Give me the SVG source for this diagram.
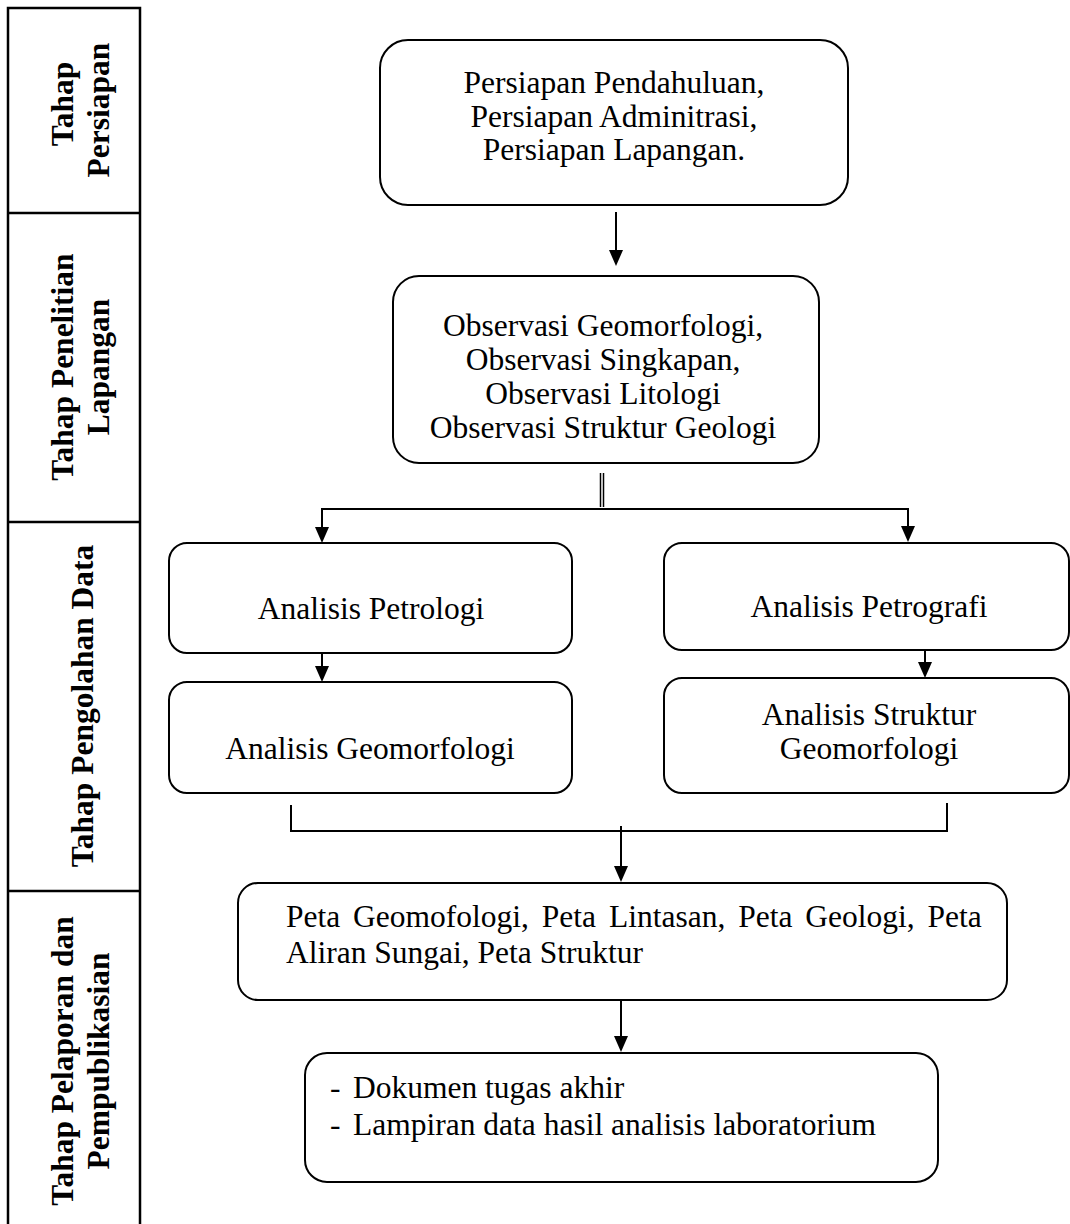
<svg xmlns="http://www.w3.org/2000/svg" width="1070" height="1224" viewBox="0 0 1070 1224">
<style>
.box{fill:#fff;stroke:#000;stroke-width:2}
.t{font-family:"Liberation Serif","Times New Roman",serif;font-size:31.5px;fill:#000}
.c{text-anchor:middle}
.b{font-weight:bold}
.ln{fill:none;stroke:#000;stroke-width:2}
</style>
<defs>
<marker id="ah" viewBox="0 0 16 14" markerWidth="16" markerHeight="14" refX="8" refY="7" orient="auto" markerUnits="userSpaceOnUse">
<path d="M0,0 L16,7 L0,14 Z" fill="#000"/>
</marker>
</defs>
<rect width="1070" height="1224" fill="#fff"/>

<g id="stages">
<rect x="8" y="8" width="132" height="1230" fill="none" stroke="#000" stroke-width="2.5"/>
<line x1="8" y1="213" x2="140" y2="213" stroke="#000" stroke-width="2.5"/>
<line x1="8" y1="522" x2="140" y2="522" stroke="#000" stroke-width="2.5"/>
<line x1="8" y1="891" x2="140" y2="891" stroke="#000" stroke-width="2.5"/>
<g id="stage1">
<text class="t b c" transform="translate(73,104) rotate(-90)">Tahap</text>
<text class="t b c" transform="translate(109,110) rotate(-90)">Persiapan</text>
</g>
<g id="stage2">
<text class="t b c" transform="translate(73,367) rotate(-90)">Tahap Penelitian</text>
<text class="t b c" transform="translate(109,367) rotate(-90)">Lapangan</text>
</g>
<g id="stage3">
<text class="t b c" transform="translate(93,706) rotate(-90)">Tahap Pengolahan Data</text>
</g>
<g id="stage4">
<text class="t b c" transform="translate(73,1061) rotate(-90)">Tahap Pelaporan dan</text>
<text class="t b c" transform="translate(109,1061) rotate(-90)">Pempublikasian</text>
</g>
</g>

<g id="connectors">
<line class="ln" x1="616" y1="212" x2="616" y2="258" marker-end="url(#ah)"/>
<line x1="600.5" y1="473" x2="600.5" y2="507" stroke="#000" stroke-width="1.5"/>
<line x1="603.5" y1="473" x2="603.5" y2="507" stroke="#000" stroke-width="1.5"/>
<polyline class="ln" points="322,535 322,509 908,509 908,534"/>
<line class="ln" x1="322" y1="520" x2="322" y2="535" marker-end="url(#ah)"/>
<line class="ln" x1="908" y1="520" x2="908" y2="534" marker-end="url(#ah)"/>
<line class="ln" x1="322" y1="653" x2="322" y2="674" marker-end="url(#ah)"/>
<line class="ln" x1="925" y1="650" x2="925" y2="670" marker-end="url(#ah)"/>
<polyline class="ln" points="291,805 291,831 947,831 947,803"/>
<line class="ln" x1="621" y1="826" x2="621" y2="874" marker-end="url(#ah)"/>
<line class="ln" x1="621" y1="1000" x2="621" y2="1044" marker-end="url(#ah)"/>
</g>

<g id="n1">
<rect class="box" x="380" y="40" width="468" height="165" rx="28"/>
<text class="t c" x="614" y="93">Persiapan Pendahuluan,</text>
<text class="t c" x="614" y="127">Persiapan Adminitrasi,</text>
<text class="t c" x="614" y="160">Persiapan Lapangan.</text>
</g>
<g id="n2">
<rect class="box" x="393" y="276" width="426" height="187" rx="26"/>
<text class="t c" x="603" y="336">Observasi Geomorfologi,</text>
<text class="t c" x="603" y="370">Observasi Singkapan,</text>
<text class="t c" x="603" y="404">Observasi Litologi</text>
<text class="t c" x="603" y="438">Observasi Struktur Geologi</text>
</g>
<g id="n3">
<rect class="box" x="169" y="543" width="403" height="110" rx="18"/>
<text class="t c" x="371" y="619">Analisis Petrologi</text>
</g>
<g id="n4">
<rect class="box" x="169" y="682" width="403" height="111" rx="18"/>
<text class="t c" x="370" y="759">Analisis Geomorfologi</text>
</g>
<g id="n5">
<rect class="box" x="664" y="543" width="405" height="107" rx="18"/>
<text class="t c" x="869" y="617">Analisis Petrografi</text>
</g>
<g id="n6">
<rect class="box" x="664" y="678" width="405" height="115" rx="18"/>
<text class="t c" x="869" y="725">Analisis Struktur</text>
<text class="t c" x="869" y="759">Geomorfologi</text>
</g>
<g id="n7">
<rect class="box" x="238" y="883" width="769" height="117" rx="20"/>
<text class="t" x="286" y="927" word-spacing="5">Peta Geomofologi, Peta Lintasan, Peta Geologi, Peta</text>
<text class="t" x="286" y="963">Aliran Sungai, Peta Struktur</text>
</g>
<g id="n8">
<rect class="box" x="305" y="1053" width="633" height="129" rx="22"/>
<text class="t" x="330" y="1098">-</text>
<text class="t" x="353" y="1098">Dokumen tugas akhir</text>
<text class="t" x="330" y="1135">-</text>
<text class="t" x="353" y="1135">Lampiran data hasil analisis laboratorium</text>
</g>
</svg>
